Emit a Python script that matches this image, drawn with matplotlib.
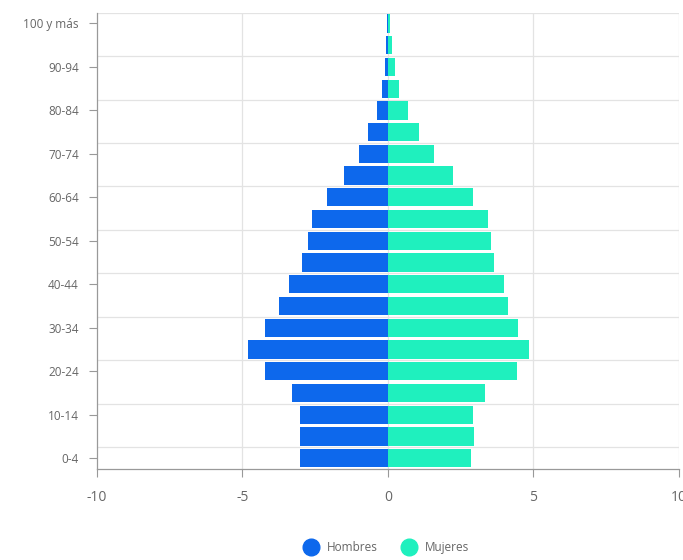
import matplotlib.pyplot as plt
import numpy as np

# Grupos de edad, de abajo hacia arriba
grupos = ["0-4", "5-9", "10-14", "15-19", "20-24", "25-29", "30-34", "35-39",
          "40-44", "45-49", "50-54", "55-59", "60-64", "65-69", "70-74",
          "75-79", "80-84", "85-89", "90-94", "95-99", "100 y más"]

# Porcentaje de población por sexo
hombres = [3.01, 3.01, 3.01, 3.30, 4.22, 4.82, 4.22, 3.74, 3.41, 2.96, 2.75,
           2.62, 2.09, 1.50, 1.01, 0.68, 0.38, 0.20, 0.10, 0.06, 0.03]
mujeres = [2.87, 2.96, 2.91, 3.35, 4.42, 4.86, 4.46, 4.12, 3.98, 3.63, 3.53,
           3.44, 2.91, 2.22, 1.59, 1.07, 0.69, 0.39, 0.24, 0.14, 0.08]

x_ticks = [-10, -5, 0, 5, 10]

azul = "#0d68ec"
verde = "#1ff0be"
gris_texto = "#666666"

plt.rcParams["font.family"] = ["Open Sans", "DejaVu Sans"]

fig = plt.figure(figsize=(6.83, 5.6), dpi=100)
ax = fig.add_axes([0.142, 0.1625, 0.852, 0.815])

y = np.arange(len(grupos))
ax.barh(y, -np.array(hombres), height=0.84, color=azul, zorder=3)
ax.barh(y, mujeres, height=0.84, color=verde, zorder=3)

ax.set_xlim(-10, 10)
ax.set_ylim(-0.5, 20.5)

# rejilla vertical
for xv in x_ticks[1:]:
    ax.axvline(xv, color="#e3e3e3", lw=0.9, zorder=1)

# rejilla horizontal cada dos grupos
for yv in np.arange(0.5, 21, 2):
    ax.axhline(yv, color="#e3e3e3", lw=0.9, zorder=1)

ax.set_xticks(x_ticks)
ax.set_xticklabels([str(v) for v in x_ticks])
ax.set_yticks(y[::2])
ax.set_yticklabels(grupos[::2])

ax.tick_params(axis="x", colors="#999999", labelcolor=gris_texto, labelsize=10,
               length=6, pad=9)
ax.tick_params(axis="y", colors="#999999", labelcolor=gris_texto, labelsize=8.5,
               length=6, pad=7)

for lado in ["top", "right"]:
    ax.spines[lado].set_visible(False)
for lado in ["left", "bottom"]:
    ax.spines[lado].set_color("#999999")
    ax.spines[lado].set_linewidth(0.9)

# leyenda con marcadores circulares
handles = [plt.Line2D([], [], marker="o", ls="", markersize=12, color=c)
           for c in (azul, verde)]
leg = fig.legend(handles, ["Hombres", "Mujeres"], loc="center",
                 bbox_to_anchor=(0.565, 0.022), ncol=2, frameon=False,
                 fontsize=8.5, handlelength=1.4, columnspacing=2.0,
                 handletextpad=0.6)
for texto in leg.get_texts():
    texto.set_color(gris_texto)

fig.savefig("out.png", dpi=100)
